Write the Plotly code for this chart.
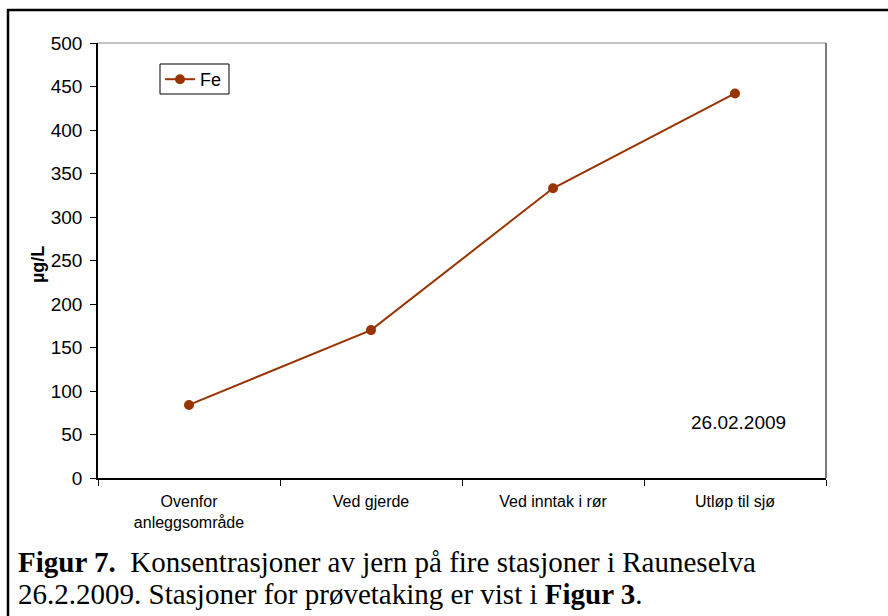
import plotly.graph_objects as go

categories = ["Ovenfor<br>anleggsområde", "Ved gjerde", "Ved inntak i rør", "Utløp til sjø"]
fe_values = [84, 170, 333, 442]
y_ticks = [0, 50, 100, 150, 200, 250, 300, 350, 400, 450, 500]
series_name = "Fe"
date_label = "26.02.2009"
caption_1 = "<b>Figur 7.</b>  Konsentrasjoner av jern på fire stasjoner i Rauneselva"
caption_2 = "26.2.2009. Stasjoner for prøvetaking er vist i <b>Figur 3</b>."

W, H = 888, 616
L, R, T, B = 98, 826, 43, 478
pw, ph = R - L, B - T

def px(x):
    return (x - L) / pw

def py(y):
    return (B - y) / ph

fig = go.Figure()
fig.add_trace(go.Scatter(
    x=categories, y=fe_values, name=series_name, mode="lines+markers",
    line=dict(color="#993300", width=2),
    marker=dict(color="#993300", size=10, symbol="circle"),
))

fig.update_layout(
    width=W, height=H,
    margin=dict(l=L, r=W - R, t=T, b=H - B, pad=0),
    paper_bgcolor="white", plot_bgcolor="white",
    font=dict(family="Liberation Sans, Arial, sans-serif", color="black", size=16),
    showlegend=True,
    legend=dict(
        x=px(160), y=py(61), xanchor="left", yanchor="top",
        borderwidth=0, bgcolor="rgba(0,0,0,0)",
        font=dict(size=18), itemwidth=30,
        tracegroupgap=0,
    ),
    xaxis=dict(
        type="category", showgrid=False, showline=True, linecolor="black", linewidth=1.5,
        ticks="outside", ticklen=6, tickcolor="black", tickson="boundaries",
        tickfont=dict(size=16), zeroline=False, range=[-0.5, 3.5],
        ticklabelstandoff=8,
    ),
    yaxis=dict(
        range=[0, 500], tickvals=y_ticks, showgrid=False, showline=True,
        linecolor="black", linewidth=1.5, ticks="outside", ticklen=6, tickcolor="black",
        tickfont=dict(size=19), zeroline=False, ticklabelstandoff=4,
    ),
    shapes=[
        dict(type="line", xref="paper", yref="paper", x0=0, x1=1, y0=1, y1=1,
             line=dict(color="#888888", width=1.2)),
        dict(type="line", xref="paper", yref="paper", x0=1, x1=1, y0=0, y1=1,
             line=dict(color="#222222", width=1.2)),
        dict(type="rect", xref="paper", yref="paper",
             x0=px(160), x1=px(229), y0=py(64), y1=py(94),
             line=dict(color="black", width=1)),
        dict(type="rect", xref="paper", yref="paper",
             x0=px(8), x1=px(905), y0=py(10), y1=py(640),
             line=dict(color="black", width=2.5)),
    ],
    annotations=[
        dict(text=date_label, xref="paper", yref="paper", x=px(738), y=py(422),
             showarrow=False, font=dict(size=19), xanchor="center", yanchor="middle"),
        dict(text="<b>µg/L</b>", xref="paper", yref="paper", x=px(38), y=py(265),
             showarrow=False, textangle=-90, font=dict(size=18),
             xanchor="center", yanchor="middle"),
        dict(text=caption_1, xref="paper", yref="paper", x=px(16), y=py(562),
             showarrow=False, xanchor="left", yanchor="middle",
             font=dict(family="Liberation Serif, Times New Roman, serif", size=29)),
        dict(text=caption_2, xref="paper", yref="paper", x=px(16), y=py(594),
             showarrow=False, xanchor="left", yanchor="middle",
             font=dict(family="Liberation Serif, Times New Roman, serif", size=29)),
    ],
)

fig.write_html(
    "out.html",
    config={"displayModeBar": False},
    post_script="document.body.style.margin='0';document.body.style.overflow='hidden';",
)
